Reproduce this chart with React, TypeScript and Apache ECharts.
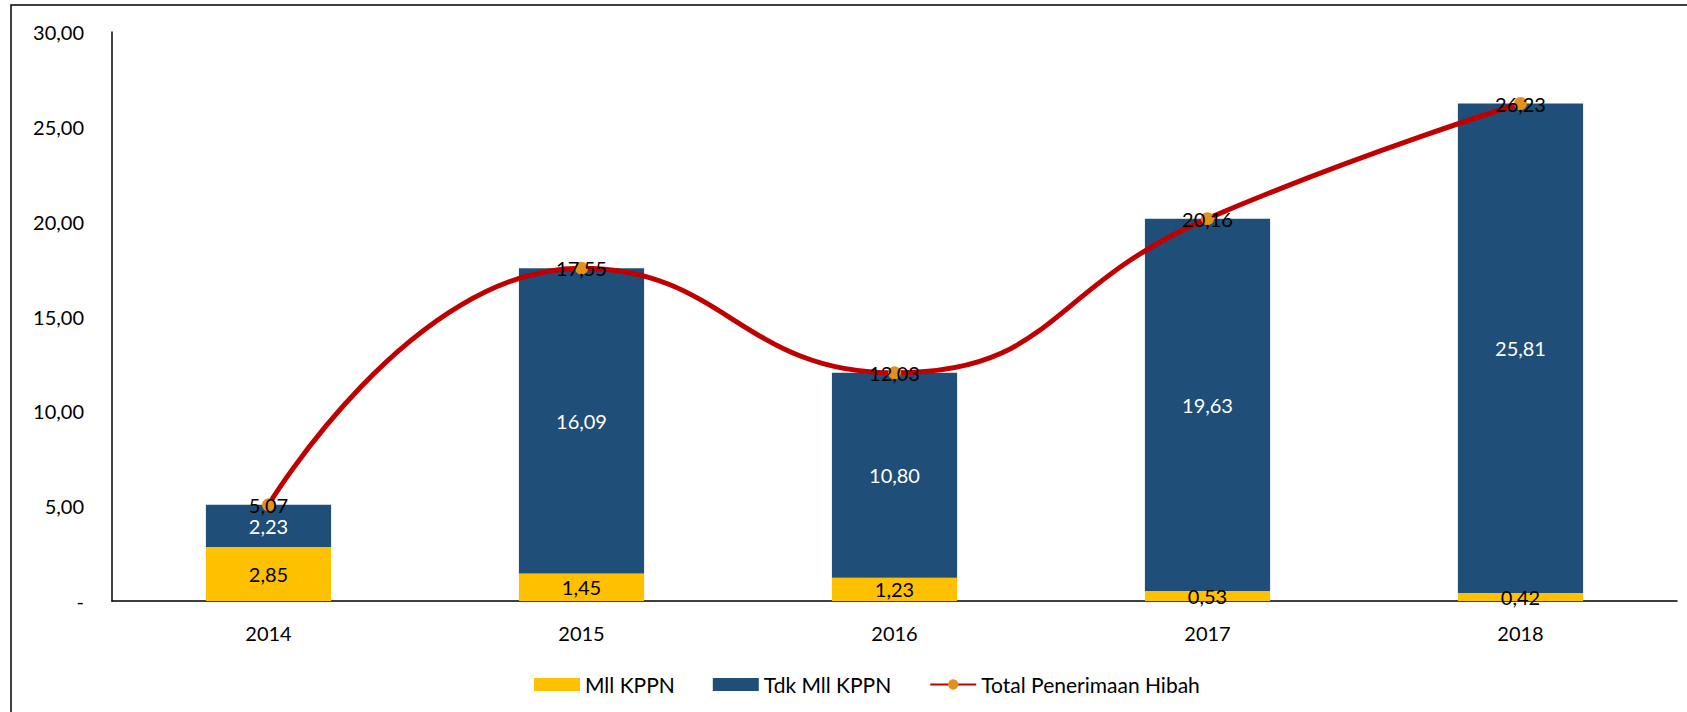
import React, { useEffect, useRef } from "react";
import * as echarts from "echarts";

const years = ["2014", "2015", "2016", "2017", "2018"];
const mllKppn = [2.85, 1.45, 1.23, 0.53, 0.42];
const tdkMllKppn = [2.23, 16.09, 10.8, 19.63, 25.81];
const totalHibah = [5.07, 17.55, 12.03, 20.16, 26.23];

const fmt = (v: number) => (v === 0 ? "-" : v.toFixed(2).replace(".", ","));
const FONT = "Lato";

export default function App() {
  const ref = useRef<HTMLDivElement>(null);
  useEffect(() => {
    document.body.style.margin = "0";
    const chart = echarts.init(ref.current!, null, { renderer: "svg" });
    chart.setOption({
      animation: false,
      backgroundColor: "#ffffff",
      textStyle: { fontFamily: FONT },
      graphic: [
        {
          type: "rect",
          shape: { x: 11, y: 5, width: 2000, height: 1000 },
          style: { fill: "none", stroke: "#000", lineWidth: 1.5 },
          silent: true,
        },
      ],
      grid: { left: 112, right: 10, top: 32, bottom: 111, containLabel: false },
      legend: {
        left: 529,
        top: 669,
        itemWidth: 46,
        itemHeight: 13,
        itemGap: 38,
        textStyle: { fontFamily: FONT, fontSize: 21, color: "#000" },
        data: [
          { name: "Mll KPPN", icon: "rect" },
          { name: "Tdk Mll KPPN", icon: "rect" },
          { name: "Total Penerimaan Hibah" },
        ],
      },
      xAxis: {
        type: "category",
        data: years,
        axisLine: { lineStyle: { color: "#000", width: 1.5 } },
        axisTick: { show: false },
        axisLabel: { color: "#000", fontSize: 20, fontFamily: FONT, margin: 22 },
      },
      yAxis: {
        type: "value",
        min: 0,
        max: 30,
        interval: 5,
        axisLine: { show: true, lineStyle: { color: "#000", width: 1.5 } },
        axisTick: { show: false },
        splitLine: { show: false },
        axisLabel: {
          color: "#000",
          fontSize: 20,
          fontFamily: FONT,
          margin: 28,
          formatter: (v: number) => fmt(v),
        },
      },
      series: [
        {
          name: "Mll KPPN",
          type: "bar",
          stack: "a",
          barWidth: "40%",
          data: mllKppn,
          itemStyle: { color: "#FFC000" },
          label: {
            show: true,
            position: "inside",
            color: "#000",
            fontSize: 20,
            fontFamily: FONT,
            formatter: (p: any) => fmt(p.value),
          },
        },
        {
          name: "Tdk Mll KPPN",
          type: "bar",
          stack: "a",
          data: tdkMllKppn,
          itemStyle: { color: "#1F4E79" },
          label: {
            show: true,
            position: "inside",
            color: "#fff",
            fontSize: 20,
            fontFamily: FONT,
            formatter: (p: any) => fmt(p.value),
          },
        },
        {
          name: "Total Penerimaan Hibah",
          type: "line",
          smooth: 0.5,
          data: totalHibah,
          symbol: "circle",
          symbolSize: 13,
          lineStyle: { color: "#C00000", width: 5 },
          itemStyle: { color: "#E3901C" },
          z: 5,
          label: {
            show: true,
            position: "inside",
            color: "#000",
            fontSize: 20,
            fontFamily: FONT,
            formatter: (p: any) => fmt(p.value),
          },
        },
      ],
    });
    return () => chart.dispose();
  }, []);
  return <div ref={ref} style={{ width: 1687, height: 712 }} />;
}
